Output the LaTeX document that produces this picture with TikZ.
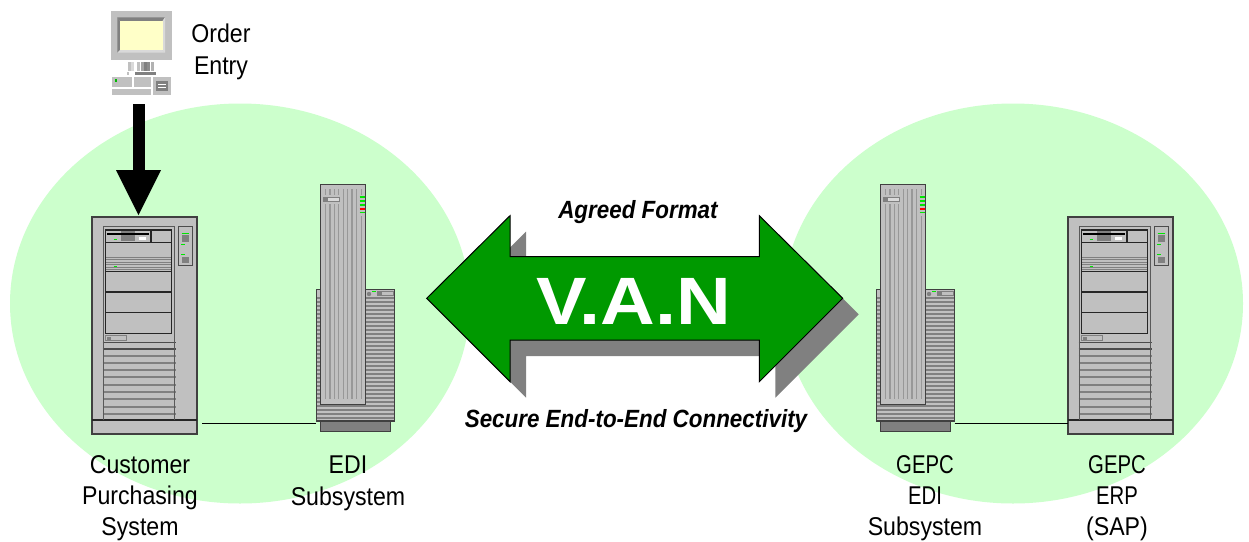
\documentclass[tikz,border=0pt]{standalone}
\usepackage{fontspec}
\setmainfont[FakeStretch=0.9]{Liberation Sans}
\newfontfamily\vanfont[FakeStretch=1.13]{Liberation Sans}
\newfontfamily\capsfont[FakeStretch=0.79]{Liberation Sans}
\usetikzlibrary{arrows.meta}
\definecolor{halo}{HTML}{CCFFCC}
\definecolor{vangreen}{HTML}{009900}
\definecolor{silver}{HTML}{C0C0C0}
\definecolor{midgrey}{HTML}{808080}
\definecolor{stripe}{HTML}{989898}
\definecolor{ledgreen}{HTML}{00E600}
\definecolor{paleyellow}{HTML}{FFFFC8}
\tikzset{
  x=1pt,y=-1pt,
  every node/.style={inner sep=0pt,outer sep=0pt},
  zone/.style={fill=halo,draw=none},
  caselook/.style={fill=silver,draw=black!75,line width=1.1pt},
  blackline/.style={draw=black!85,line width=1.2pt},
  grille/.style={draw=midgrey,line width=2.3pt},
  ledline/.style={draw=ledgreen,line width=1pt},
  darkbit/.style={fill=midgrey,draw=none},
  label/.style={align=center,font=\fontsize{25.7}{32.3}\selectfont},
  labelthree/.style={align=center,font=\fontsize{25.7}{30.8}\selectfont},
  slogan/.style={font=\fontsize{24.9}{28}\selectfont\bfseries\itshape},
  conn/.style={draw=black,line width=1.5pt},
  inarrow/.style={draw=black,line width=12pt,-{Triangle[width=45pt,length=45pt,line width=0pt]}},
}
\newcommand{\bigserver}[1]{%
\begin{scope}[shift={(#1)}]
  \fill[silver] (0,0) rectangle (105,217);
  \foreach \yy in {139,146,153,160,168,175,182,190,197}
    \draw[grille] (10.5,\yy) -- (83.5,\yy);
  \foreach \yy in {125.7,132}
    \draw[draw=black!70,line width=1.1pt] (10.5,\yy) -- (83.5,\yy);
  \draw[caselook,fill=none] (0,0) rectangle (105,217);
  \draw[blackline] (0,203) -- (105,203);
  \draw[draw=black!65,line width=1.5pt] (11.5,203) -- (11.5,9.7) -- (82.3,9.7) -- (82.3,203);
  \foreach \yy in {40,42.5,45,47.5,50,52.5}
    \draw[draw=midgrey,line width=0.9pt] (13.5,\yy) -- (79.5,\yy);
  \draw[blackline] (13.5,13) rectangle (79.5,116.3);
  \foreach \yy in {25.3,54.7,75,95.7} \draw[blackline] (13.5,\yy) -- (79.5,\yy);
  \draw[blackline] (59,13) -- (59,25.3);
  \fill[midgrey] (29,14) rectangle (43,24);
  \draw[black,line width=2.4pt] (15.3,17) -- (57,17);
  \fill[white] (47,20) rectangle (54,23);
  \draw[ledline] (21.5,22) -- (25,22);
  \draw[ledline] (21.5,49) -- (25,49);
  \draw[draw=midgrey,line width=0.9pt] (13,118.7) rectangle (34,123.5);
  \fill[midgrey] (15,119.5) rectangle (19,123);
  \draw[draw=black!70,line width=1.4pt] (86.7,9.7) rectangle (100.3,48.3);
  \draw[ledline] (89.5,16) -- (97,16);
  \fill[midgrey] (90,18) rectangle (97,25);
  \draw[ledline] (89,27.5) -- (93,27.5);
  \draw[ledline] (89,37.7) -- (93,37.7);
  \fill[midgrey] (90,40) rectangle (97,46);
\end{scope}}
\newcommand{\ediserver}[1]{%
\begin{scope}[shift={(#1)}]
  \fill[darkbit,draw=black!75,line width=1pt] (4.7,237) rectangle (74,247);
  \fill[silver] (0.3,105.7) rectangle (78.3,237);
  \foreach \yy in {114,118,122,126,130,134,138,142,146,150,154,158,162,166,170,174,178,182,186,190,194,198,202,206,210,214,218,222,226,230,234}
    \draw[draw=midgrey,line width=1.4pt] (0.3,\yy) -- (78.3,\yy);
  \draw[draw=black!75,line width=1.1pt] (0.3,105.7) rectangle (78.3,237);
  \fill[midgrey] (53,110) circle (2.2);
  \draw[ledline] (56,107.5) -- (60,107.5);
  \draw[draw=midgrey,line width=0.9pt] (61,107) rectangle (77,111);
  \fill[midgrey] (62,107.5) rectangle (66,110.5);
  \draw[caselook] (4.7,0.3) rectangle (49.7,220.3);
  \foreach \xx in {9.7,14,18.3,22.7} {
    \draw[draw=stripe,line width=1.4pt] (\xx,5) -- (\xx,11);
    \draw[draw=stripe,line width=1.4pt] (\xx,20) -- (\xx,215);
  }
  \foreach \xx in {27.3,31.7,36,40.7,45.3}
    \draw[draw=stripe,line width=1.4pt] (\xx,5) -- (\xx,215);
  \fill[silver] (41,11) rectangle (49.2,32);
  \draw[draw=midgrey,line width=0.9pt,fill=silver!60] (7,13) rectangle (23,17);
  \fill[midgrey] (8,13.5) rectangle (12,16.5);
  \foreach \yy in {13,17,21,28.7} \draw[ledline,line width=1.3pt] (43.5,\yy) -- (49,\yy);
  \draw[draw=red,line width=1.3pt] (43.5,25) -- (49,25);
\end{scope}}
\begin{document}
\begin{tikzpicture}
\useasboundingbox (0,0) rectangle (1249,541);
\fill[white] (0,0) rectangle (1249,541);
% green zones
\fill[zone] (240,303.5) ellipse [x radius=230,y radius=200];
\fill[zone] (1013,303.5) ellipse [x radius=230,y radius=200];
% servers
\bigserver{92,217}
\ediserver{316,184}
\ediserver{876,184}
\bigserver{1068,217}
% anchors for connectors
\path (92,217) node[anchor=north west,minimum width=105,minimum height=217] (cps) {};
\path (316,184) node[anchor=north west,minimum width=78.5,minimum height=247] (edia) {};
\path (876,184) node[anchor=north west,minimum width=78.5,minimum height=247] (edib) {};
\path (1068,217) node[anchor=north west,minimum width=105,minimum height=217] (erp) {};
\path (110.7,11) node[anchor=north west,minimum width=61.6,minimum height=85] (pc) {};
% computer
\fill[silver] (110.7,11) rectangle (172.3,60);
\fill[midgrey] (117.3,17.3) -- (165,17.3) -- (162.5,21) -- (120,21) -- cycle;
\fill[midgrey] (117.3,17.3) -- (120,21) -- (120,50) -- (117.3,52.7) -- cycle;
\fill[white!85!black] (117.3,52.7) -- (120,50) -- (162.5,50) -- (165,52.7) -- cycle;
\fill[white!85!black] (165,17.3) -- (162.5,21) -- (162.5,50) -- (165,52.7) -- cycle;
\fill[paleyellow] (120,21) rectangle (162.5,50);
\foreach \xx/\cc in {128/silver,130.5/black!15,137/silver,141/black!35,144/midgrey,147/black!45,151/black!30}
  \fill[\cc] (\xx,61.5) rectangle ++(3,9);
\fill[silver] (127,72) rectangle (129,74.5);
\fill[midgrey] (134.5,72) rectangle (156,74.5);
\fill[silver] (111.7,77) rectangle (132.3,87.3);
\fill[silver] (134.3,77) rectangle (151.3,87.3);
\fill[silver] (111.7,89) rectangle (151.3,95);
\fill[silver] (152.7,76.5) rectangle (171.3,95);
\fill[midgrey] (156,80.5) rectangle (168,91);
\draw[white,line width=0.7pt] (158,84.5) -- (166,84.5) (158,87.5) -- (166,87.5);
\fill[ledgreen!80!black] (114.5,79) rectangle (117,81.5);
% big double arrow
\fill[midgrey,shift={(16,16)}] (426.7,298.3) -- (510,215.7) -- (510,256.7) -- (759.3,256.7) -- (759.3,215.7) -- (842.7,298.3) -- (759.3,381.7) -- (759.3,340) -- (510,340) -- (510,381.7) -- cycle;
\path[draw=black,line width=1pt,fill=vangreen] (426.7,298.3) -- (510,215.7) -- (510,256.7) -- (759.3,256.7) -- (759.3,215.7) -- (842.7,298.3) -- (759.3,381.7) -- (759.3,340) -- (510,340) -- (510,381.7) -- cycle;
\node[text=white,font=\vanfont\fontsize{67}{67}\selectfont\bfseries] (van) at (633.5,301) {V.A.N};
% texts
\node[slogan] (agreed) at (638,212) {Agreed Format};
\node[slogan] (secure) at (636,421) {Secure End-to-End Connectivity};
\node[label] (order) at (221,52) {Order\\Entry};
\node[labelthree,anchor=north] (lc) at (140,456) {Customer\\Purchasing\\System};
\node[label,anchor=north] (le) at (348,456) {EDI\\Subsystem};
\node[labelthree,anchor=north] (lg) at (925,456) {{\capsfont GEPC}\\{\capsfont EDI}\\Subsystem};
\node[labelthree,anchor=north] (ls) at (1117,456) {{\capsfont GEPC}\\{\capsfont ERP}\\(SAP)};
% connectors
\draw[conn] ([xshift=5pt,yshift=10.5pt]cps.south east) -- ([yshift=7.5pt]edia.south west);
\draw[conn] ([yshift=7.5pt]edib.south east) -- ([yshift=10.5pt]erp.south west);
\draw[inarrow,shorten <=8pt,shorten >=2pt] ([xshift=-3pt]pc.south) -- ([xshift=-6pt]cps.north);
\end{tikzpicture}
\end{document}
